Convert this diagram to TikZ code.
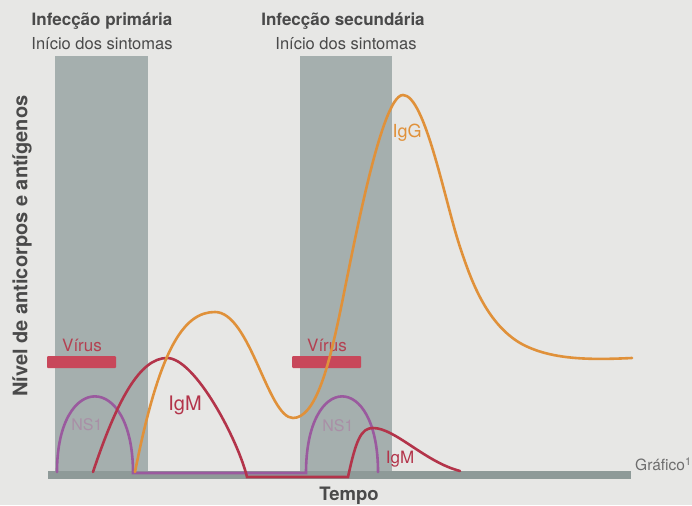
\documentclass[tikz,border=0pt]{standalone}
\usepackage{fontspec}
\setmainfont{TeX Gyre Heros}
\definecolor{fundo}{HTML}{E7E7E5}
\definecolor{faixa}{HTML}{A5AFAE}
\definecolor{eixo}{HTML}{8E9A98}
\definecolor{texto}{HTML}{4A4A4A}
\definecolor{virus}{HTML}{C8475A}
\definecolor{ns}{HTML}{9A5A9E}
\definecolor{nstxt}{HTML}{A98FA6}
\definecolor{igm}{HTML}{B3344A}
\definecolor{igg}{HTML}{E0913A}
\begin{document}
\begin{tikzpicture}[x=1pt, y=-1pt,
  curva/.style={line width=2.6pt, line cap=round},
  rotulo/.style={inner sep=0pt, font=\fontsize{17}{20}\selectfont},
  barra/.style={fill=virus, rounded corners=1pt, minimum width=69pt, minimum height=12pt, inner sep=0pt}]
\fill[fundo] (0,0) rectangle (692,505);
\useasboundingbox (0,0) rectangle (692,505);
\fill[faixa] (55,56) rectangle (148,471);
\fill[faixa] (300,56) rectangle (392,471);
\fill[eixo] (48,471) rectangle (631,479);
\node[rotulo, texto, font=\fontsize{17}{20}\selectfont\bfseries] (T_1) at (102,21) {Infecção primária};
\node[rotulo, texto, font=\fontsize{16.5}{20}\selectfont] (S_1) at (102,44) {Início dos sintomas};
\node[rotulo, texto, font=\fontsize{17}{20}\selectfont\bfseries] (T_2) at (343,21) {Infecção secundária};
\node[rotulo, texto, font=\fontsize{16.5}{20}\selectfont] (S_2) at (346,44) {Início dos sintomas};
\node[rotulo, texto, font=\fontsize{20}{24}\selectfont\bfseries, rotate=90] (Y) at (22,246) {Nível de anticorpos e antígenos};
\node[rotulo, texto, font=\fontsize{18.5}{22}\selectfont\bfseries] (X) at (349,496) {Tempo};
\node[rotulo, texto!80, font=\fontsize{15.5}{18}\selectfont, anchor=west] (G) at (635,464) {Gráfico\textsuperscript{1}};
\node[barra] (V_1) at (81.5,362) {};
\node[barra] (V_2) at (326.5,362) {};
\node[rotulo, virus!90!black] (VT_1) at (82,345) {Vírus};
\node[rotulo, virus!90!black] (VT_2) at (327,345) {Vírus};
\node[rotulo, nstxt, font=\fontsize{16}{18}\selectfont] (N_1) at (87,425) {NS1};
\node[rotulo, nstxt, font=\fontsize{16}{18}\selectfont] (N_2) at (338,426) {NS1};
\node[rotulo, igm, font=\fontsize{20}{22}\selectfont] (M_1) at (185,405) {IgM};
\node[rotulo, igm, font=\fontsize{17}{20}\selectfont] (M_2) at (400,459) {IgM};
\node[rotulo, igg, font=\fontsize{18}{20}\selectfont] (G_1) at (407,133) {IgG};
% NS1
\draw[curva, ns] (57,472) .. controls (57,371) and (133,371) .. (133,473) -- (306,473) .. controls (306,371) and (378,371) .. (378,472);
% IgM
\draw[curva, igm] (93,472) .. controls (117,400) and (140,358) .. (167,358)
  .. controls (195,358) and (238,440) .. (247,477) -- (348,477)
  .. controls (356,440) and (361,428) .. (373,428) .. controls (395,428) and (425,462) .. (460,471);
% IgG
\draw[curva, igg] (135,472) .. controls (160,345) and (185,312) .. (215,312)
  .. controls (250,312) and (268,418) .. (293,418)
  .. controls (315,418) and (328,368) .. (338,322)
  .. controls (350,267) and (380,95) .. (403,95)
  .. controls (425,95) and (445,202) .. (460,247)
  .. controls (470,277) and (485,322) .. (520,343)
  .. controls (550,360) and (590,360) .. (632,358);
\end{tikzpicture}
\end{document}
